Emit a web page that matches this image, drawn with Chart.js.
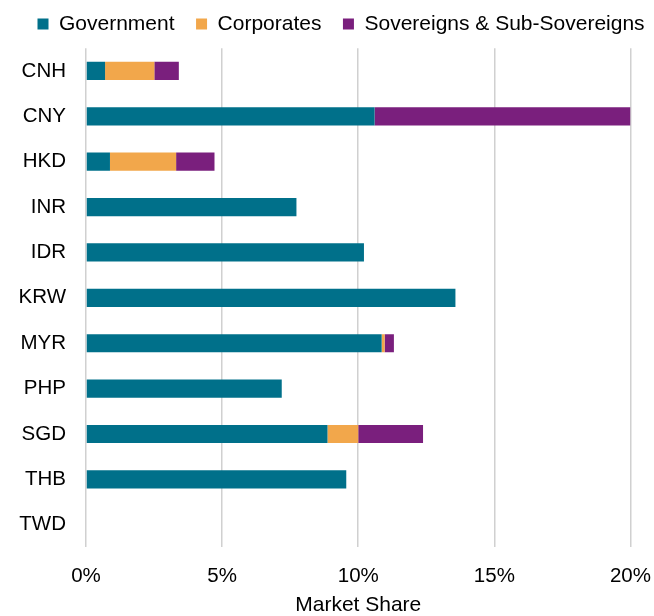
<!DOCTYPE html>
<html>
<head>
<meta charset="utf-8">
<script src="https://cdn.jsdelivr.net/npm/chart.js@4"></script>
<style>
  html, body { margin: 0; padding: 0; background: #fff; }
  #wrap { width: 654px; height: 616px; }
</style>
</head>
<body>
<div id="wrap"><canvas id="chart"></canvas></div>
<script>
// --- Data ---
const CURRENCIES = ['CNH', 'CNY', 'HKD', 'INR', 'IDR', 'KRW', 'MYR', 'PHP', 'SGD', 'THB', 'TWD'];
const GOVERNMENT = [0.70, 10.60, 0.88, 7.73, 10.21, 13.57, 10.86, 7.19, 8.87, 9.56, 0];
const CORPORATES = [1.81, 0, 2.43, 0, 0, 0, 0.11, 0, 1.13, 0, 0];
const SOVEREIGNS = [0.90, 9.40, 1.41, 0, 0, 0, 0.34, 0, 2.38, 0, 0];
const X_TICKS = [0, 5, 10, 15, 20];

const FONT = '"Liberation Sans", Arial, Helvetica, sans-serif';

// more room under the legend, and legend nudged right
const legendTweak = {
  id: 'legendTweak',
  beforeInit(chart) {
    const fit = chart.legend.fit;
    chart.legend.fit = function () {
      fit.call(this);
      this.height += 3.75;
    };
  },
  afterLayout(chart) {
    chart.legend.left = 33.5;
  },
};

new Chart(document.getElementById('chart'), {
  type: 'bar',
  data: {
    labels: CURRENCIES,
    datasets: [
      { label: 'Government', data: GOVERNMENT, backgroundColor: '#00708A' },
      { label: 'Corporates', data: CORPORATES, backgroundColor: '#F2A74B' },
      { label: 'Sovereigns & Sub-Sovereigns', data: SOVEREIGNS, backgroundColor: '#7A1F7D' },
    ],
  },
  options: {
    indexAxis: 'y',
    responsive: true,
    maintainAspectRatio: false,
    animation: false,
    datasets: {
      bar: { barPercentage: 0.4, categoryPercentage: 1, borderWidth: 0 },
    },
    layout: { padding: { top: 9.5, left: 15, right: 0, bottom: 0 } },
    scales: {
      x: {
        stacked: true,
        min: 0,
        max: 20,
        afterBuildTicks: (scale) => {
          scale.ticks = X_TICKS.map((v) => ({ value: v }));
        },
        grid: { color: '#D0D0D0', lineWidth: 1.5, tickLength: 14, tickColor: 'rgba(0,0,0,0)' },
        border: { display: false },
        ticks: {
          color: '#000',
          padding: 3,
          font: { family: FONT, size: 20.5 },
          callback: (v) => v + '%',
        },
        title: {
          display: true,
          text: 'Market Share',
          color: '#000',
          padding: { top: 3, bottom: 0 },
          font: { family: FONT, size: 21, lineHeight: 1 },
        },
      },
      y: {
        stacked: true,
        grid: { display: false, drawTicks: false },
        border: { display: false },
        ticks: { color: '#000', padding: 20, font: { family: FONT, size: 20.5 } },
        afterFit: (scale) => {
          scale.width = 71;
        },
      },
    },
    plugins: {
      legend: {
        position: 'top',
        align: 'start',
        labels: {
          color: '#000',
          boxWidth: 11,
          boxHeight: 11,
          padding: 4,
          font: { family: FONT, size: 21 },
          generateLabels: (chart) => {
            const items = Chart.defaults.plugins.legend.labels.generateLabels(chart);
            items.forEach((item, i) => {
              if (i < items.length - 1) item.text = item.text + '   ';
            });
            return items;
          },
        },
      },
      tooltip: { enabled: false },
    },
  },
  plugins: [legendTweak],
});
</script>
</body>
</html>
